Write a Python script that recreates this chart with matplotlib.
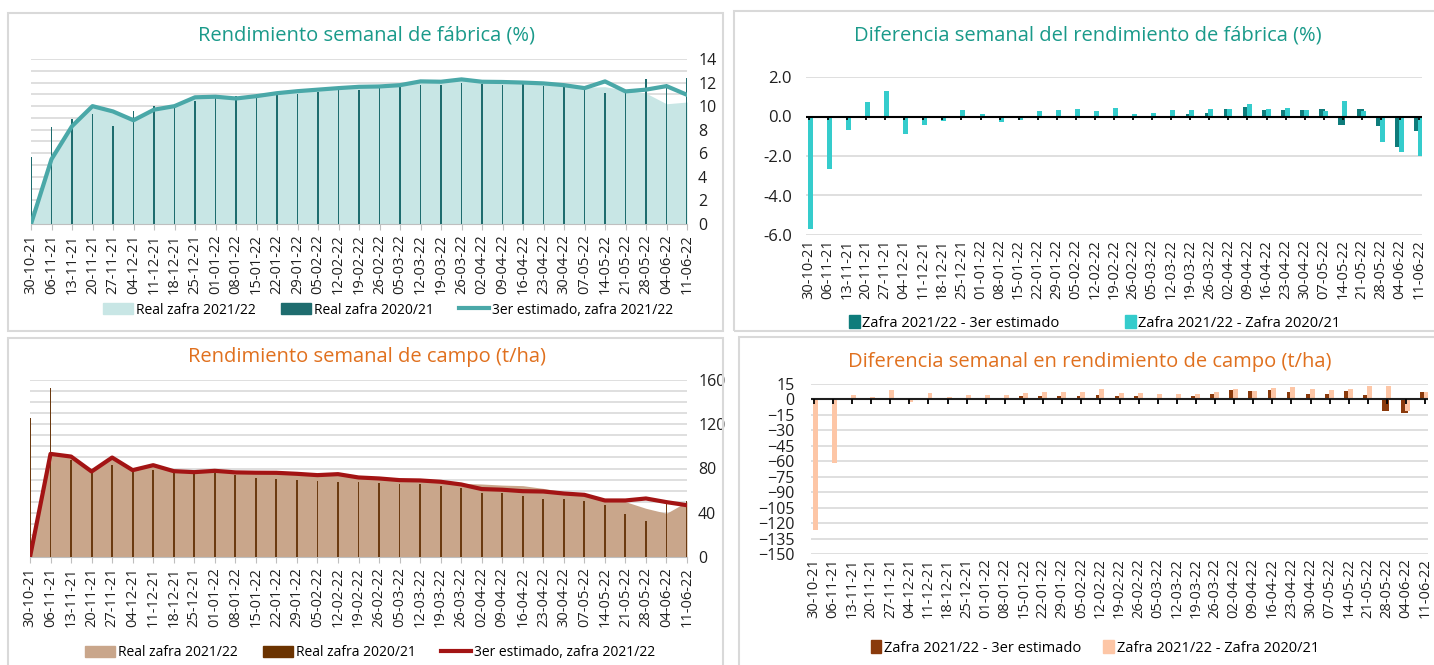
import matplotlib.pyplot as plt
from matplotlib.patches import Rectangle, Patch
from matplotlib.lines import Line2D
import numpy as np

plt.rcParams['font.family'] = ['Open Sans', 'DejaVu Sans']

semanas = ["30-10-21", "06-11-21", "13-11-21", "20-11-21", "27-11-21", "04-12-21",
           "11-12-21", "18-12-21", "25-12-21", "01-01-22", "08-01-22", "15-01-22",
           "22-01-22", "29-01-22", "05-02-22", "12-02-22", "19-02-22", "26-02-22",
           "05-03-22", "12-03-22", "19-03-22", "26-03-22", "02-04-22", "09-04-22",
           "16-04-22", "23-04-22", "30-04-22", "07-05-22", "14-05-22", "21-05-22",
           "28-05-22", "04-06-22", "11-06-22"]

# rendimiento de fabrica (%)
fab_real_2122 = [0, 5.5, 8.3, 10.0, 9.55, 8.8, 9.7, 10.0, 10.75, 10.8, 10.65, 10.85,
                 11.1, 11.27, 11.4, 11.53, 11.64, 11.67, 11.8, 12.1, 12.1, 12.3, 12.15,
                 12.15, 12.1, 12.0, 11.85, 11.6, 11.65, 11.35, 11.1, 10.2, 10.35]
fab_real_2021 = [5.7, 8.2, 8.9, 9.3, 8.3, 9.6, 10.0, 10.0, 10.45, 10.8, 10.85, 11.0,
                 11.0, 11.0, 11.2, 11.35, 11.35, 11.6, 11.8, 11.8, 11.8, 12.0, 11.9,
                 11.8, 11.9, 11.75, 11.6, 11.7, 11.1, 11.2, 12.3, 11.9, 12.4]
fab_est = [0, 5.5, 8.3, 10.0, 9.55, 8.8, 9.7, 10.0, 10.75, 10.8, 10.65, 10.85, 11.1,
           11.27, 11.4, 11.53, 11.64, 11.67, 11.78, 12.1, 12.07, 12.27, 12.07, 12.05,
           12.0, 11.93, 11.78, 11.53, 12.1, 11.25, 11.4, 11.7, 10.96]

# diferencias fabrica
dif_fab_est = [0, 0, 0, 0, 0, 0, 0, 0, 0, 0, 0, 0, 0, 0, 0, 0, 0, 0, 0, 0,
               0.13, 0.17, 0.4, 0.5, 0.35, 0.32, 0.34, 0.4, -0.45, 0.4, -0.5, -1.53, -0.72]
dif_fab_2021 = [-5.71, -2.67, -0.67, 0.74, 1.29, -0.89, -0.45, -0.24, 0.35, 0.13, -0.3,
                -0.18, 0.27, 0.32, 0.37, 0.29, 0.42, 0.12, 0.2, 0.35, 0.35, 0.4, 0.4,
                0.64, 0.37, 0.42, 0.34, 0.3, 0.77, 0.3, -1.31, -1.8, -1.98]

# rendimiento de campo (t/ha)
campo_real_2122 = [0, 93, 91, 77, 90, 78.5, 83, 77.6, 76.7, 77.9, 76.5, 76.2, 76.1, 75.2,
                   74, 75, 72, 71, 69.5, 69.2, 68, 66.5, 66, 65, 64.5, 62, 59, 56.5, 52,
                   50, 44, 39.5, 50]
campo_real_2021 = [125.4, 153, 88, 76, 83.3, 77, 78.8, 76, 74.9, 75.5, 73.7, 71.6, 70.7,
                   70, 68.9, 67.4, 68, 66.8, 66, 65.6, 64.4, 62, 58.3, 58, 54.7, 52, 52,
                   50.8, 47.2, 38.9, 32.5, 48.3, 50.5]
campo_est = [0, 93.2, 90.8, 77.3, 89.9, 78.5, 83, 77.6, 76.7, 77.9, 76.5, 76.2, 76.1,
             75.2, 74, 74.9, 71.9, 71, 69.5, 69.2, 68, 65.6, 61.4, 60.8, 59.5, 59.2,
             57.4, 56.2, 51.1, 51.1, 52.9, 49.6, 46.8]

# diferencias campo
dif_campo_est = [1, 1, 0, 0, 0, 0, 0, 0, 0, 0, 0, 3.5, 3.5, 3.5, 3.5, 4, 3.5, 3.5, 0, 0,
                 3.5, 5, 9.4, 7.8, 8.7, 6.8, 5.2, 5.2, 8, 3.9, -11.3, -13, 7]
dif_campo_2021 = [-127, -61.6, 4.5, 2.3, 9, -2.3, 6, 2, 4, 4, 4, 6.5, 7, 7, 7.5, 9.7, 6,
                  6.5, 5, 5.5, 5.5, 7, 10, 8, 11.3, 12, 9.7, 9.4, 10, 13, 13.3, -11.5, 7.5]

W, H = 1434, 665
x = np.arange(len(semanas))


def px_box(l, t, r, b):
    return [l / W, 1 - b / H, (r - l) / W, (b - t) / H]


fig = plt.figure(figsize=(W / 100, H / 100), dpi=100)

# panel borders
for (l, t, r, b) in [(8, 13, 723, 331), (734, 11, 1440, 331),
                     (8, 338, 723, 670), (739, 337, 1440, 670)]:
    fig.patches.append(Rectangle((l / W, 1 - b / H), (r - l) / W, (b - t) / H,
                                 transform=fig.transFigure, fill=False,
                                 edgecolor='#D9D9D9', lw=1.5))

grid_c = '#D9D9D9'
txt_c = '#1F1F1F'
teal_title = '#1A9A8A'
orange_title = '#E0701E'


def style_cat_axis(ax):
    ax.set_xticks(x)
    ax.set_xticklabels(semanas, rotation=90, fontsize=10.5, color=txt_c)
    for s in ['top', 'left', 'right']:
        ax.spines[s].set_visible(False)


# ---------- top left: rendimiento de fabrica ----------
ax1 = fig.add_axes(px_box(31, 59, 687, 224))
ax1.fill_between(x, fab_real_2122, color='#C8E6E5', lw=0, zorder=2)
ax1.bar(x, fab_real_2021, width=0.09, color='#1E6C6E', zorder=3)
ax1.plot(x, fab_est, color='#4AA8A8', lw=3, zorder=4)
ax1.set_xlim(0, 32)
ax1.set_ylim(0, 14)
ax1.set_yticks(range(0, 15, 2))
ax1.set_yticks(range(0, 15, 1), minor=True)
ax1.yaxis.tick_right()
ax1.tick_params(axis='y', which='both', length=0, labelsize=11.5, labelcolor=txt_c, pad=8)
ax1.grid(axis='y', which='both', color=grid_c, lw=1.2, zorder=0)
style_cat_axis(ax1)
ax1.tick_params(axis='x', length=4, color='#BFBFBF')
ax1.spines['bottom'].set_color('#BFBFBF')
fig.text(367 / W, 1 - 35 / H, "Rendimiento semanal de fábrica (%)", ha='center',
         va='center', fontsize=14.5, color=teal_title)
ax1.legend(handles=[Patch(color='#C8E6E5', label='Real zafra 2021/22'),
                    Patch(color='#1E6C6E', label='Real zafra 2020/21'),
                    Line2D([], [], color='#4AA8A8', lw=3, label='3er estimado, zafra 2021/22')],
           loc='center', bbox_to_anchor=(388 / W, 1 - 310 / H),
           bbox_transform=fig.transFigure, ncol=3, frameon=False, fontsize=10,
           handlelength=2.2, handleheight=0.8, columnspacing=1.8, handletextpad=0.2)

# ---------- top right: diferencia fabrica ----------
ax2 = fig.add_axes(px_box(806, 77, 1422, 235))
ax2.bar(x - 0.08, dif_fab_est, width=0.34, color='#0E7C7B', zorder=3)
ax2.bar(x + 0.08, dif_fab_2021, width=0.26, color='#35CCCC', zorder=4)
ax2.axhline(0, color='black', lw=1.5, zorder=5)
ax2.vlines(x, 0, -0.2, color='black', lw=1.3, zorder=5)
ax2.set_xlim(-0.15, 32.15)
ax2.set_ylim(-6, 2)
ax2.set_yticks([-6, -4, -2, 0, 2])
ax2.set_yticklabels(['%.1f' % v for v in [-6, -4, -2, 0, 2]])
ax2.tick_params(axis='y', length=0, labelsize=12, labelcolor=txt_c, pad=10)
ax2.grid(axis='y', color=grid_c, lw=1.2, zorder=0)
style_cat_axis(ax2)
ax2.spines['bottom'].set_visible(False)
ax2.tick_params(axis='x', length=0, pad=3)
fig.text(1088 / W, 1 - 35 / H, "Diferencia semanal del rendimiento de fábrica (%)",
         ha='center', va='center', fontsize=14.5, color=teal_title)
ax2.legend(handles=[Patch(color='#0E7C7B', label='Zafra 2021/22 - 3er estimado'),
                    Patch(color='#35CCCC', label='Zafra 2021/22 - Zafra 2020/21')],
           loc='center', bbox_to_anchor=(1095 / W, 1 - 323 / H),
           bbox_transform=fig.transFigure, ncol=2, frameon=False, fontsize=10.5,
           handlelength=0.7, handleheight=0.9, columnspacing=4.5, handletextpad=0.2)

# ---------- bottom left: rendimiento de campo ----------
ax3 = fig.add_axes(px_box(30, 380, 687, 557))
ax3.fill_between(x, campo_real_2122, color='#C9A68B', lw=0, zorder=2)
ax3.bar(x, campo_real_2021, width=0.09, color='#6B3A10', zorder=3)
ax3.plot(x, campo_est, color='#A31414', lw=3, zorder=4)
ax3.set_xlim(0, 32)
ax3.set_ylim(0, 160)
ax3.set_yticks(range(0, 161, 40))
ax3.set_yticks(range(0, 161, 10), minor=True)
ax3.yaxis.tick_right()
ax3.tick_params(axis='y', which='both', length=0, labelsize=11.5, labelcolor=txt_c, pad=8)
ax3.grid(axis='y', which='both', color=grid_c, lw=1.2, zorder=0)
style_cat_axis(ax3)
ax3.tick_params(axis='x', length=4, color='#BFBFBF')
ax3.spines['bottom'].set_color('#BFBFBF')
fig.text(367 / W, 1 - 357 / H, "Rendimiento semanal de campo (t/ha)", ha='center',
         va='center', fontsize=14.5, color=orange_title)
ax3.legend(handles=[Patch(color='#C9A68B', label='Real zafra 2021/22'),
                    Patch(color='#6B3300', label='Real zafra 2020/21'),
                    Line2D([], [], color='#A31414', lw=3, label='3er estimado, zafra 2021/22')],
           loc='center', bbox_to_anchor=(370 / W, 1 - 653 / H),
           bbox_transform=fig.transFigure, ncol=3, frameon=False, fontsize=10,
           handlelength=2.2, handleheight=0.8, columnspacing=1.8, handletextpad=0.2)

# ---------- bottom right: diferencia campo ----------
ax4 = fig.add_axes(px_box(811, 384, 1428, 554))
ax4.bar(x - 0.08, dif_campo_est, width=0.34, color='#8A3A0C', zorder=3)
ax4.bar(x + 0.08, dif_campo_2021, width=0.26, color='#FDC6A6', zorder=4)
ax4.axhline(0, color='#1F1F1F', lw=1.5, zorder=5)
ax4.vlines(x, 0, -4, color='black', lw=1.3, zorder=5)
ax4.set_xlim(-0.15, 32.15)
ax4.set_ylim(-150, 15)
ax4.set_yticks(range(-150, 16, 15))
ax4.tick_params(axis='y', length=0, labelsize=11.5, labelcolor=txt_c, pad=12)
ax4.grid(axis='y', color=grid_c, lw=1.2, zorder=0)
style_cat_axis(ax4)
ax4.spines['bottom'].set_visible(False)
ax4.tick_params(axis='x', length=0, pad=3)
fig.text(1090 / W, 1 - 362 / H, "Diferencia semanal en rendimiento de campo (t/ha)",
         ha='center', va='center', fontsize=14.5, color=orange_title)
ax4.legend(handles=[Patch(color='#8A3A0C', label='Zafra 2021/22 - 3er estimado'),
                    Patch(color='#FDC6A6', label='Zafra 2021/22 - Zafra 2020/21')],
           loc='center', bbox_to_anchor=(1095 / W, 1 - 648 / H),
           bbox_transform=fig.transFigure, ncol=2, frameon=False, fontsize=10.5,
           handlelength=0.7, handleheight=0.9, columnspacing=1.5, handletextpad=0.2)

fig.savefig('out.png', dpi=100)
